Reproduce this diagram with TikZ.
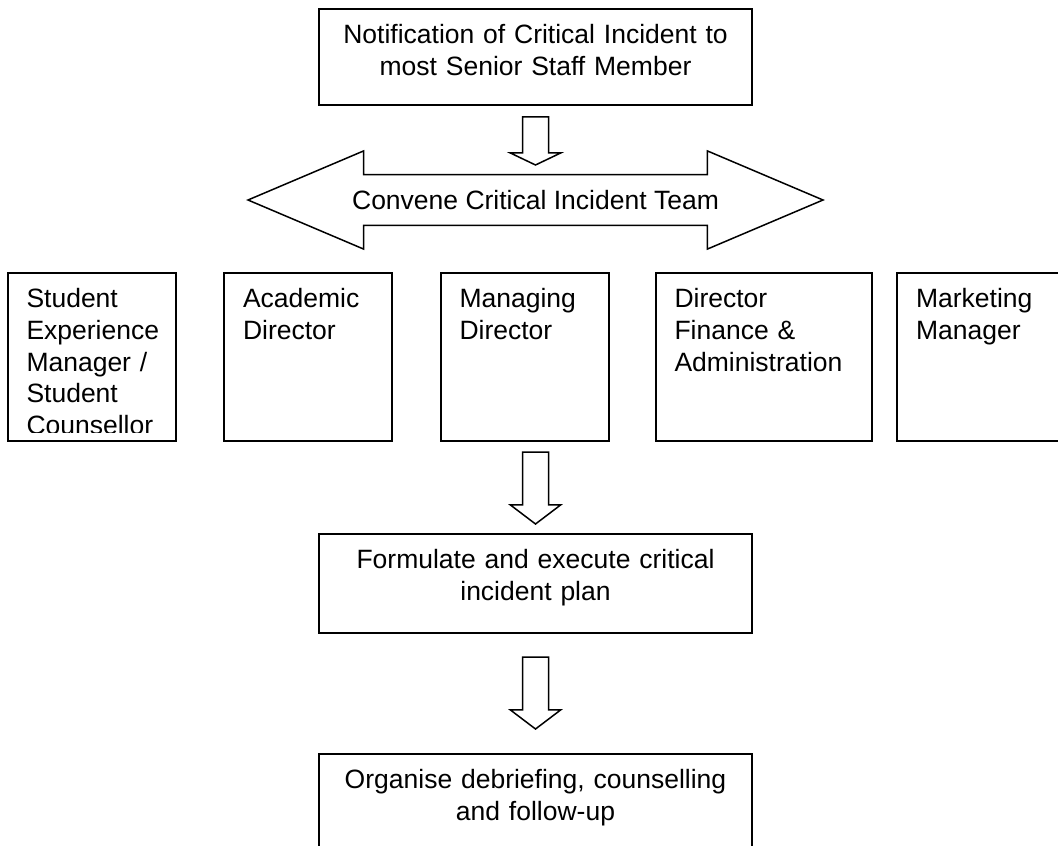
\documentclass[tikz,border=0pt]{standalone}
\usepackage{fontspec}
\setmainfont{Liberation Sans}
\usetikzlibrary{shapes, positioning, calc}
\tikzstyle{block} = [rectangle, draw, line width=1pt, inner xsep=5pt, inner ysep=0pt, outer sep=0pt, text width=206.5pt, align=center, text height=17.25pt]
\tikzstyle{member} = [rectangle, draw, line width=1pt, inner xsep=9.5pt, inner ysep=0pt, outer sep=0pt, text width=65pt, text height=17.25pt, text depth=66.75pt]
\tikzstyle{hollow} = [single arrow, draw, line width=0.75pt, shape border rotate=270, inner sep=6.125pt, single arrow head extend=6.125pt, minimum width=24.5pt, outer sep=0pt, anchor=tail]
\tikzstyle{convene} = [double arrow, draw, line width=0.75pt, inner xsep=0pt, inner ysep=7.25pt, text height=9.5pt, text depth=0.5pt, double arrow head extend=11.9pt, double arrow tip angle=46, minimum width=48.3pt, minimum height=287.5pt, outer sep=0pt]

\begin{document}
\begin{tikzpicture}[auto, font=\fontsize{13.25}{15.9}\selectfont]
		\useasboundingbox (0,0) rectangle (529pt,-422.5pt);
		\clip (0,0) rectangle (529pt,-422.5pt);

		\node [block, anchor=north, text depth=30.75pt] (ntf) at (267.75pt,-4.5pt) {
			Notification of Critical Incident to\\ most Senior Staff Member
		};
		\node [hollow, minimum height=24pt, single arrow tip angle=128.9] (a1) at ([yshift=-6pt]ntf.south) {};
		\node [convene] (cit) at ([yshift=-47.5pt]ntf.south) {\makebox[0pt]{Convene Critical Incident Team}};

		% the text box cuts off the last line here
		\begin{scope}
			\clip (0,0) rectangle (529pt,-216pt);
			\node [member, anchor=north west] (sem) at (3.75pt,-136.5pt) {
				\begin{tabular}[t]{@{}l@{}}
					Student\\
					Experience\\
					Manager /\\
					Student\\
					Counsellor
				\end{tabular}
			};
		\end{scope}
		\draw [line width=1pt] (sem.south west) rectangle (sem.north east);

		\node [member, right=24.25pt of sem] (acd) {
			\begin{tabular}[t]{@{}l@{}}
				Academic\\
				Director
			\end{tabular}
		};
		\node [member, right=24.25pt of acd] (mgd) {
			\begin{tabular}[t]{@{}l@{}}
				Managing\\
				Director
			\end{tabular}
		};
		\node [member, text width=89.25pt, right=23.5pt of mgd] (dfa) {
			\begin{tabular}[t]{@{}l@{}}
				Director\\
				Finance \&\\
				Administration
			\end{tabular}
		};
		\node [member, right=12.5pt of dfa] (mkt) {
			\begin{tabular}[t]{@{}l@{}}
				Marketing\\
				Manager
			\end{tabular}
		};

		\coordinate (rowbase) at (ntf.south |- mgd.south);
		\node [hollow, minimum height=36pt, single arrow tip angle=105.6] (a2) at ([yshift=-5.5pt]rowbase) {};
		\node [block, below=5pt of a2.tip, text depth=32.25pt] (plan) {
			Formulate and execute critical\\ incident plan
		};
		\node [hollow, minimum height=36pt, single arrow tip angle=105.6] (a3) at ([yshift=-12pt]plan.south) {};
		\node [block, below=12.5pt of a3.tip, text depth=37.75pt] (debrief) {
			Organise debriefing, counselling\\ and follow-up
		};
	\end{tikzpicture}
\end{document}
